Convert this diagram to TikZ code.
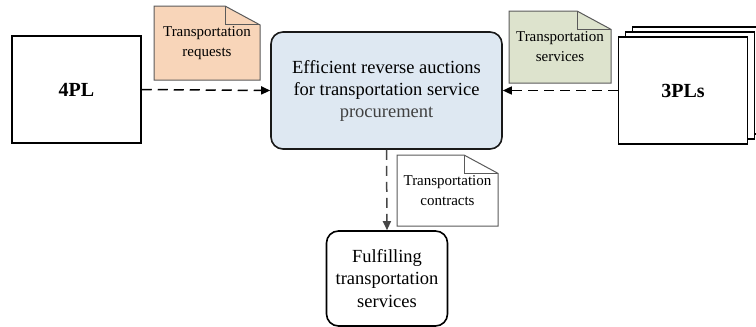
\documentclass[tikz,border=0pt]{standalone}
\usepackage{fontspec}
\setmainfont{Liberation Serif}
\usetikzlibrary{arrows.meta,backgrounds}
\definecolor{reqfill}{RGB}{248,213,185}
\definecolor{svcfill}{RGB}{221,227,205}
\definecolor{mainfill}{RGB}{222,232,242}
\definecolor{notedraw}{RGB}{90,90,90}
\definecolor{arrowgray}{RGB}{70,70,70}
\tikzset{
  x=1pt, y=-1pt,
  plbox/.style={draw=black, line width=1.5pt, fill=white, minimum width=129pt, minimum height=107pt, inner sep=0pt, font=\fontsize{20}{24}\selectfont\bfseries},
  mainbox/.style={draw=black!90, line width=1.6pt, fill=mainfill, rounded corners=12pt, minimum width=231pt, minimum height=117pt, inner sep=0pt, align=center, font=\fontsize{18.5}{22}\selectfont},
  fulbox/.style={draw=black, line width=1.6pt, fill=white, rounded corners=12pt, minimum width=121pt, minimum height=95pt, inner sep=0pt, align=center, font=\fontsize{18.5}{22.5}\selectfont},
  notetext/.style={inner sep=0pt, align=center, font=\fontsize{15}{20}\selectfont},
  notepath/.style={draw=notedraw, line width=1pt},
  flow/.style={dashed, dash pattern=on 10pt off 6pt, line width=1.5pt, -{Triangle[length=9pt,width=8pt]}},
}
\newcommand{\drawnote}[5]{% name, width, height, fold dx, fill colour
  \path[notepath, fill=#5] ([xshift=-#2/2, yshift=-#3/2]#1.center) -- ([xshift=-#2/2, yshift=#3/2]#1.center)
    -- ([xshift=#2/2-#4, yshift=#3/2]#1.center) -- ([xshift=#2/2, yshift=#3/2-#4*0.54]#1.center)
    -- ([xshift=#2/2, yshift=-#3/2]#1.center) -- cycle;
  \draw[notepath] ([xshift=#2/2-#4, yshift=#3/2]#1.center) -- ([xshift=#2/2-#4, yshift=#3/2-#4*0.54]#1.center)
    -- ([xshift=#2/2, yshift=#3/2-#4*0.54]#1.center);
}
\begin{document}
\begin{tikzpicture}
\useasboundingbox (0,0) rectangle (756,327);
% 3PL stack (back copies)
\node[plbox] (pl3c) at (697,80.5) {};
\node[plbox] (pl3b) at (690,85.5) {};
\node[plbox] (pl3) at (683,90.5) {3PLs};
\node[plbox] (pl4) at (76.5,89.5) {4PL};
\node[mainbox] (main) at (386.5,90.5) {Efficient reverse auctions\\for transportation service\\\textcolor{black!75}{procurement}};
\node[fulbox] (ful) at (387,278.5) {Fulfilling\\transportation\\services};
% notes
\node[notetext] (req) at (207,43) {Transportation\\requests};
\node[notetext] (svc) at (560,47) {Transportation\\services};
\node[notetext] (con) at (447.5,190.5) {Transportation\\contracts};
\begin{scope}[on background layer]
  \drawnote{req}{106pt}{74pt}{35pt}{reqfill}
  \drawnote{svc}{102pt}{72pt}{34pt}{svcfill}
  \drawnote{con}{101pt}{71pt}{34pt}{white}
\end{scope}
% connectors
\draw[flow] (pl4.east) -- (main.west);
\draw[flow] (pl3.west) -- (main.east);
\draw[flow, draw=arrowgray] (main.south) -- (ful.north);
\end{tikzpicture}
\end{document}
